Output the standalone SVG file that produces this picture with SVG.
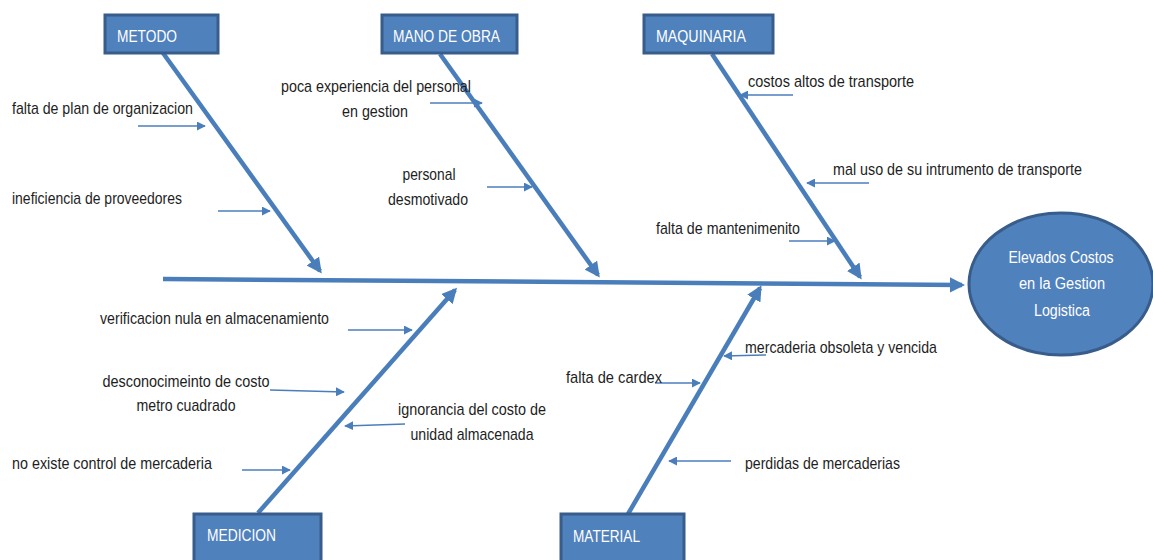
<svg xmlns="http://www.w3.org/2000/svg" width="1153" height="560" viewBox="0 0 1153 560">
<defs>
<style>
.lbl{font-family:"Liberation Sans",Arial,sans-serif;font-size:17px;fill:#1e1e1e}
.box rect{fill:#4f81bd;stroke:#385d8a;stroke-width:3}
.box text{font-family:"Liberation Sans",Arial,sans-serif;font-size:16px;fill:#ffffff}
.bone{stroke:#4a7ebb;stroke-width:4.5;fill:none}
.small{stroke:#4a7ebb;stroke-width:1.5;fill:none}
.effect ellipse{fill:#4f81bd;stroke:#385d8a;stroke-width:3}
.effect text{font-family:"Liberation Sans",Arial,sans-serif;font-size:16px;fill:#ffffff;text-anchor:middle}
</style>
<marker id="big" viewBox="0 0 10 10" refX="8" refY="5" markerWidth="3.4" markerHeight="3.4" orient="auto" markerUnits="strokeWidth">
<path d="M0,0 L10,5 L0,10 z" fill="#4a7ebb"/>
</marker>
<marker id="sm" viewBox="0 0 10 10" refX="9" refY="5" markerWidth="6" markerHeight="6" orient="auto" markerUnits="strokeWidth">
<path d="M0,0 L10,5 L0,10 z" fill="#4a7ebb"/>
</marker>
</defs>
<rect width="1153" height="560" fill="#ffffff"/>
<g id="connectors">
<line class="bone" x1="163" y1="279" x2="962" y2="285" marker-end="url(#big)"/>
<line class="bone" x1="163" y1="53" x2="320" y2="271" marker-end="url(#big)"/>
<line class="bone" x1="440" y1="54" x2="598" y2="275" marker-end="url(#big)"/>
<line class="bone" x1="712" y1="54" x2="860" y2="277" marker-end="url(#big)"/>
<line class="bone" x1="258" y1="513" x2="455" y2="290" marker-end="url(#big)"/>
<line class="bone" x1="628" y1="514" x2="760" y2="288" marker-end="url(#big)"/>
<line class="small" x1="138" y1="126" x2="205" y2="126" marker-end="url(#sm)"/>
<line class="small" x1="218" y1="211" x2="270" y2="211" marker-end="url(#sm)"/>
<line class="small" x1="430" y1="103" x2="482" y2="103" marker-end="url(#sm)"/>
<line class="small" x1="487" y1="187" x2="532" y2="187" marker-end="url(#sm)"/>
<line class="small" x1="793" y1="95" x2="740" y2="95" marker-end="url(#sm)"/>
<line class="small" x1="869" y1="183" x2="807" y2="183" marker-end="url(#sm)"/>
<line class="small" x1="789" y1="241" x2="835" y2="241" marker-end="url(#sm)"/>
<line class="small" x1="348" y1="330" x2="412" y2="330" marker-end="url(#sm)"/>
<line class="small" x1="270" y1="390" x2="344" y2="392" marker-end="url(#sm)"/>
<line class="small" x1="405" y1="424" x2="345" y2="426" marker-end="url(#sm)"/>
<line class="small" x1="242" y1="470" x2="290" y2="470" marker-end="url(#sm)"/>
<line class="small" x1="766" y1="355" x2="724" y2="356" marker-end="url(#sm)"/>
<line class="small" x1="655" y1="383" x2="700" y2="383" marker-end="url(#sm)"/>
<line class="small" x1="731" y1="461" x2="669" y2="461" marker-end="url(#sm)"/>
</g>
<g id="metodo" class="box"><rect x="105" y="15" width="113" height="38"/><text x="117" y="42" textLength="60" lengthAdjust="spacingAndGlyphs">METODO</text></g>
<g id="mano-de-obra" class="box"><rect x="382" y="15" width="135" height="38"/><text x="393" y="42" textLength="107" lengthAdjust="spacingAndGlyphs">MANO DE OBRA</text></g>
<g id="maquinaria" class="box"><rect x="644" y="15" width="129" height="38"/><text x="656" y="42" textLength="90" lengthAdjust="spacingAndGlyphs">MAQUINARIA</text></g>
<g id="medicion" class="box"><rect x="194" y="514" width="127" height="50"/><text x="207" y="541" textLength="69" lengthAdjust="spacingAndGlyphs">MEDICION</text></g>
<g id="material" class="box"><rect x="561" y="514" width="123" height="50"/><text x="573" y="542" textLength="67" lengthAdjust="spacingAndGlyphs">MATERIAL</text></g>
<g id="effect" class="effect"><ellipse cx="1061" cy="284" rx="92" ry="71"/><text x="1061" y="263" textLength="105" lengthAdjust="spacingAndGlyphs">Elevados Costos</text><text x="1062" y="289" textLength="86" lengthAdjust="spacingAndGlyphs">en la Gestion</text><text x="1062" y="316" textLength="56" lengthAdjust="spacingAndGlyphs">Logistica</text></g>
<g id="causes">
<text class="lbl" x="12" y="114" textLength="181" lengthAdjust="spacingAndGlyphs">falta de plan de organizacion</text>
<text class="lbl" x="12" y="204" textLength="170" lengthAdjust="spacingAndGlyphs">ineficiencia de proveedores</text>
<text class="lbl" x="376" y="92" text-anchor="middle" textLength="190" lengthAdjust="spacingAndGlyphs">poca experiencia del personal</text>
<text class="lbl" x="375" y="117" text-anchor="middle" textLength="66" lengthAdjust="spacingAndGlyphs">en gestion</text>
<text class="lbl" x="429" y="180" text-anchor="middle" textLength="53" lengthAdjust="spacingAndGlyphs">personal</text>
<text class="lbl" x="428" y="205" text-anchor="middle" textLength="80" lengthAdjust="spacingAndGlyphs">desmotivado</text>
<text class="lbl" x="748" y="87" textLength="166" lengthAdjust="spacingAndGlyphs">costos altos de transporte</text>
<text class="lbl" x="833" y="175" textLength="249" lengthAdjust="spacingAndGlyphs">mal uso de su intrumento de transporte</text>
<text class="lbl" x="656" y="234" textLength="144" lengthAdjust="spacingAndGlyphs">falta de mantenimenito</text>
<text class="lbl" x="100" y="324" textLength="229" lengthAdjust="spacingAndGlyphs">verificacion nula en almacenamiento</text>
<text class="lbl" x="186" y="387" text-anchor="middle" textLength="167" lengthAdjust="spacingAndGlyphs">desconocimeinto de costo</text>
<text class="lbl" x="186" y="411" text-anchor="middle" textLength="99" lengthAdjust="spacingAndGlyphs">metro cuadrado</text>
<text class="lbl" x="472" y="415" text-anchor="middle" textLength="148" lengthAdjust="spacingAndGlyphs">ignorancia del costo de</text>
<text class="lbl" x="472" y="440" text-anchor="middle" textLength="123" lengthAdjust="spacingAndGlyphs">unidad almacenada</text>
<text class="lbl" x="12" y="469" textLength="200" lengthAdjust="spacingAndGlyphs">no existe control de mercaderia</text>
<text class="lbl" x="745" y="353" textLength="192" lengthAdjust="spacingAndGlyphs">mercaderia obsoleta y vencida</text>
<text class="lbl" x="566" y="383" textLength="96" lengthAdjust="spacingAndGlyphs">falta de cardex</text>
<text class="lbl" x="745" y="469" textLength="155" lengthAdjust="spacingAndGlyphs">perdidas de mercaderias</text>
</g>
</svg>
